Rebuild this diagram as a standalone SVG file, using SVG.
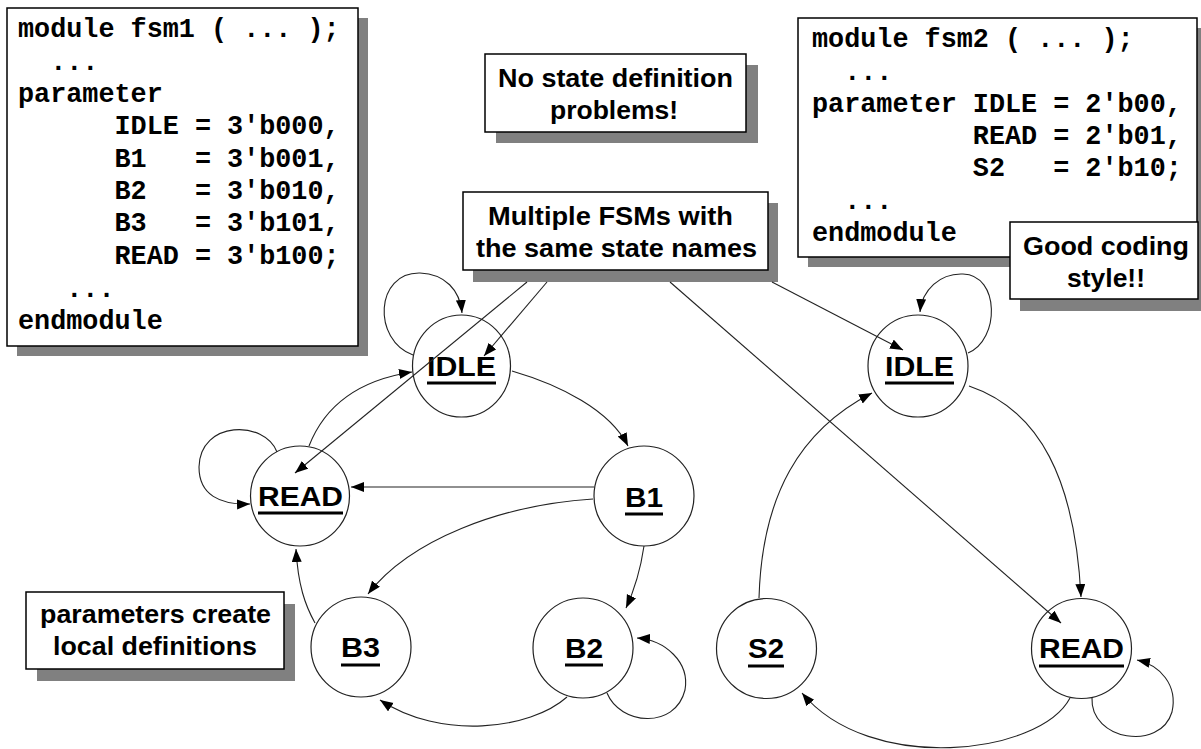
<svg xmlns="http://www.w3.org/2000/svg" width="1201" height="749" viewBox="0 0 1201 749">
<defs>
<style>
.code{font-family:"Liberation Mono","Courier New",monospace;font-weight:bold;font-size:26.8px;fill:#000}
.box{fill:#fff;stroke:#000;stroke-width:1.5}
.shadow{fill:#808080}
.note{font-family:"Liberation Sans",Arial,sans-serif;font-weight:bold;font-size:25px;fill:#000}
.state{fill:none;stroke:#222;stroke-width:1.2}
.lbl{font-family:"Liberation Sans",Arial,sans-serif;font-weight:bold;font-size:27px;fill:#000}
.ul{stroke:#000;stroke-width:3}
.conn{fill:none;stroke:#222;stroke-width:1.1;marker-end:url(#ah)}
</style>
<marker id="ah" markerUnits="userSpaceOnUse" markerWidth="14" markerHeight="11" refX="13" refY="5" orient="auto">
<path d="M0,0 L13,5 L0,10 z" fill="#000"/>
</marker>
</defs>
<rect width="1201" height="749" fill="#fff"/>

<g id="code-fsm1">
<rect class="shadow" x="17" y="18" width="351" height="338"/>
<rect class="box" x="7" y="8" width="351" height="338"/>
<text class="code" xml:space="preserve"><tspan x="18" y="37">module fsm1 ( ... );</tspan><tspan x="18" y="69.5">  ...</tspan><tspan x="18" y="102">parameter</tspan><tspan x="18" y="134">      IDLE = 3'b000,</tspan><tspan x="18" y="166.5">      B1   = 3'b001,</tspan><tspan x="18" y="199">      B2   = 3'b010,</tspan><tspan x="18" y="231">      B3   = 3'b101,</tspan><tspan x="18" y="264">      READ = 3'b100;</tspan><tspan x="18" y="296.5">   ...</tspan><tspan x="18" y="329">endmodule</tspan></text>
</g>

<g id="code-fsm2">
<rect class="shadow" x="808" y="28" width="399" height="239"/>
<rect class="box" x="798" y="18" width="399" height="239"/>
<text class="code" xml:space="preserve"><tspan x="812" y="47">module fsm2 ( ... );</tspan><tspan x="812" y="80">  ...</tspan><tspan x="812" y="112">parameter IDLE = 2'b00,</tspan><tspan x="812" y="144">          READ = 2'b01,</tspan><tspan x="812" y="176">          S2   = 2'b10;</tspan><tspan x="812" y="209">  ...</tspan><tspan x="812" y="241">endmodule</tspan></text>
</g>

<g id="note-no-problems">
<rect class="shadow" x="496" y="65" width="262" height="78"/>
<rect class="box" x="485" y="54" width="261" height="78"/>
<text class="note" x="498" y="87" textLength="235" lengthAdjust="spacingAndGlyphs">No state definition</text>
<text class="note" x="550" y="119" textLength="128" lengthAdjust="spacingAndGlyphs">problems!</text>
</g>

<g id="note-multiple">
<rect class="shadow" x="473" y="203" width="305" height="79"/>
<rect class="box" x="463" y="192" width="305" height="78"/>
<text class="note" x="488" y="225" textLength="245" lengthAdjust="spacingAndGlyphs">Multiple FSMs with</text>
<text class="note" x="476" y="257" textLength="281" lengthAdjust="spacingAndGlyphs">the same state names</text>
</g>

<g id="note-good">
<rect class="shadow" x="1020" y="233" width="190" height="78"/>
<rect class="box" x="1010" y="222" width="188" height="77"/>
<text class="note" x="1023" y="255" textLength="166" lengthAdjust="spacingAndGlyphs">Good coding</text>
<text class="note" x="1067" y="287" textLength="78" lengthAdjust="spacingAndGlyphs">style!!</text>
</g>

<g id="note-params">
<rect class="shadow" x="37" y="604" width="258" height="77"/>
<rect class="box" x="26" y="592" width="258" height="77"/>
<text class="note" x="40" y="623" textLength="231" lengthAdjust="spacingAndGlyphs">parameters create</text>
<text class="note" x="53" y="655" textLength="204" lengthAdjust="spacingAndGlyphs">local definitions</text>
</g>

<g id="s1-idle">
<ellipse class="state" cx="461.5" cy="366" rx="49" ry="51"/>
<text class="lbl" x="427" y="376" textLength="69" lengthAdjust="spacingAndGlyphs">IDLE</text>
<line class="ul" x1="427" y1="383" x2="496" y2="383"/>
</g>
<g id="s1-read">
<ellipse class="state" cx="300" cy="496" rx="49.5" ry="50"/>
<text class="lbl" x="258" y="506" textLength="85" lengthAdjust="spacingAndGlyphs">READ</text>
<line class="ul" x1="258" y1="513" x2="343" y2="513"/>
</g>
<g id="s1-b1">
<ellipse class="state" cx="644" cy="496" rx="50" ry="50"/>
<text class="lbl" x="625" y="507" textLength="38" lengthAdjust="spacingAndGlyphs">B1</text>
<line class="ul" x1="625" y1="514" x2="663" y2="514"/>
</g>
<g id="s1-b3">
<ellipse class="state" cx="361" cy="647" rx="50" ry="50"/>
<text class="lbl" x="341" y="657" textLength="39" lengthAdjust="spacingAndGlyphs">B3</text>
<line class="ul" x1="341" y1="665" x2="380" y2="665"/>
</g>
<g id="s1-b2">
<ellipse class="state" cx="583" cy="648" rx="50" ry="50"/>
<text class="lbl" x="565" y="658" textLength="38" lengthAdjust="spacingAndGlyphs">B2</text>
<line class="ul" x1="565" y1="665" x2="603" y2="665"/>
</g>
<g id="s2-idle">
<ellipse class="state" cx="918" cy="366" rx="50" ry="51"/>
<text class="lbl" x="885" y="376" textLength="69" lengthAdjust="spacingAndGlyphs">IDLE</text>
<line class="ul" x1="885" y1="383" x2="954" y2="383"/>
</g>
<g id="s2-s2">
<ellipse class="state" cx="766.5" cy="648.5" rx="50" ry="50"/>
<text class="lbl" x="748" y="658" textLength="36" lengthAdjust="spacingAndGlyphs">S2</text>
<line class="ul" x1="748" y1="666" x2="784" y2="666"/>
</g>
<g id="s2-read">
<ellipse class="state" cx="1081.5" cy="648.5" rx="50" ry="50"/>
<text class="lbl" x="1039" y="658" textLength="85" lengthAdjust="spacingAndGlyphs">READ</text>
<line class="ul" x1="1039" y1="666" x2="1124" y2="666"/>
</g>

<g id="connectors">
<!-- left FSM -->
<path class="conn" d="M413,355 C372,340 375,272 420,273 C445,274 460,290 462,313"/>
<path class="conn" d="M277,452 C265,420 200,420 199,467 C199,495 220,505 250,504"/>
<path class="conn" d="M309,446 C325,405 360,380 412,372"/>
<path class="conn" d="M512,371 C560,385 610,410 628,446"/>
<path class="conn" d="M594,487 L351,487"/>
<path class="conn" d="M593,499 C500,505 410,540 368,594"/>
<path class="conn" d="M644,546 Q639,580 626,608"/>
<path class="conn" d="M607,693 C620,725 675,730 685,690 C690,662 665,640 637,638"/>
<path class="conn" d="M567,697 C530,730 440,740 380,700"/>
<path class="conn" d="M315,623 C305,605 298,585 296,549"/>
<!-- right FSM -->
<path class="conn" d="M968,353 C1000,340 1000,275 963,274 C940,273 922,290 920,312"/>
<path class="conn" d="M759,598 C762,495 800,430 872,393"/>
<path class="conn" d="M969,386 C1040,410 1075,480 1081,597"/>
<path class="conn" d="M1092,698 C1090,740 1160,752 1172,712 C1178,685 1160,665 1137,660"/>
<path class="conn" d="M1070,698 C1040,755 870,775 802,693"/>
<!-- callout pointers -->
<path class="conn" d="M527,282 L295,473"/>
<path class="conn" d="M547,282 L484,356"/>
<path class="conn" d="M670,282 L1061,623"/>
<path class="conn" d="M772,282 L903,350"/>
</g>
</svg>
